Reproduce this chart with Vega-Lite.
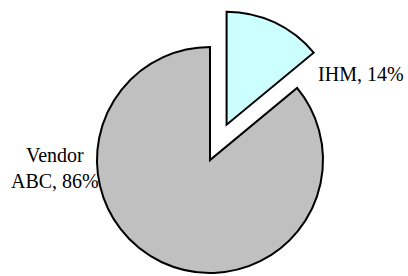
{
  "$schema": "https://vega.github.io/schema/vega-lite/v6.json",
  "width": 396,
  "height": 232,
  "autosize": {"type": "none"},
  "padding": {"left": 12, "top": 44, "right": 0, "bottom": 0},
  "background": "white",
  "config": {"view": {"stroke": null}},
  "data": {
    "values": [
      {"category": "IHM", "label": "IHM, 14%", "share": 14},
      {"category": "Vendor ABC", "label": "Vendor\nABC, 86%", "share": 86}
    ]
  },
  "encoding": {
    "theta": {"field": "share", "type": "quantitative", "stack": true}
  },
  "layer": [
    {
      "mark": {"type": "arc", "radius": 113, "stroke": "black", "strokeWidth": 2},
      "encoding": {
        "color": {"field": "category", "type": "nominal", "scale": {"domain": ["IHM", "Vendor ABC"], "range": ["#ccffff", "#c0c0c0"]}, "legend": null},
        "opacity": {"condition": {"test": "datum.category === 'Vendor ABC'", "value": 1}, "value": 0}
      }
    },
    {
      "mark": {"type": "arc", "radius": 113, "stroke": "black", "strokeWidth": 2, "xOffset": 16.6, "yOffset": -35.3},
      "encoding": {
        "color": {"field": "category", "type": "nominal", "scale": {"domain": ["IHM", "Vendor ABC"], "range": ["#ccffff", "#c0c0c0"]}, "legend": null},
        "opacity": {"condition": {"test": "datum.category === 'IHM'", "value": 1}, "value": 0}
      }
    },
    {
      "mark": {"type": "text", "radius": 113, "font": "Liberation Serif, Times New Roman, serif", "fontSize": 20, "align": "left", "baseline": "alphabetic", "dx": 60, "dy": 23, "color": "black"},
      "encoding": {
        "text": {"condition": {"test": "datum.category === 'IHM'", "field": "label"}, "value": ""}
      }
    },
    {
      "mark": {"type": "text", "radius": 113, "font": "Liberation Serif, Times New Roman, serif", "fontSize": 20, "align": "center", "baseline": "alphabetic", "lineBreak": "\n", "lineHeight": 26, "dx": -107, "dy": -100, "color": "black"},
      "encoding": {
        "text": {"condition": {"test": "datum.category === 'Vendor ABC'", "field": "label"}, "value": ""}
      }
    }
  ]
}
